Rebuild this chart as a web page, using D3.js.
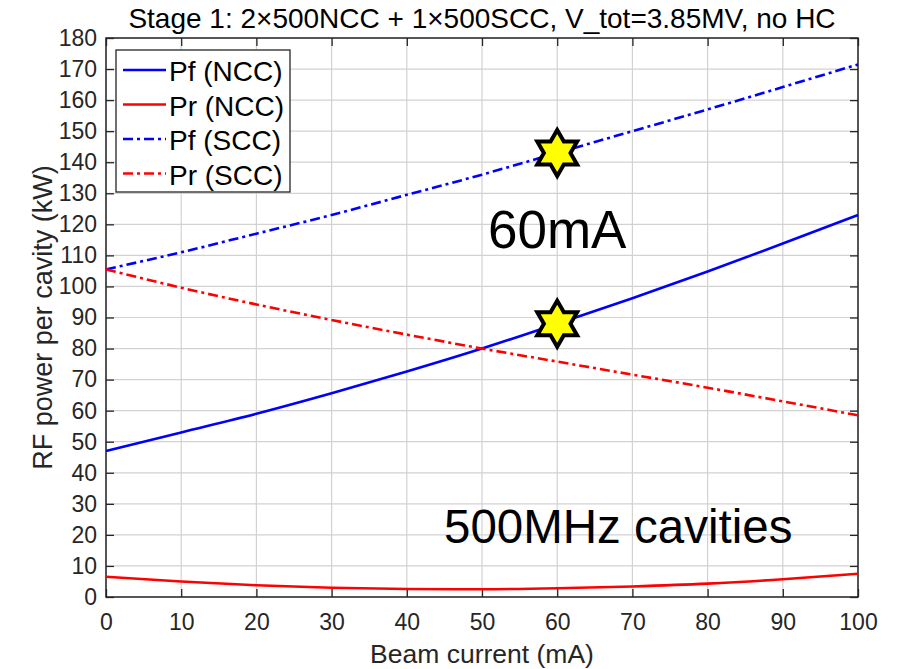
<!DOCTYPE html>
<html>
<head>
<meta charset="utf-8">
<script src="https://cdn.jsdelivr.net/npm/d3@7"></script>
<style>
  body { margin: 0; background: #fff; }
  text { font-family: "Liberation Sans", Arial, Helvetica, sans-serif; }
</style>
</head>
<body>
<script>
// data
const current = [0, 10, 20, 30, 40, 50, 60, 70, 80, 90, 100];
const pfNCC = [47, 53, 59, 65.6, 72.6, 80, 88, 96.2, 104.8, 113.8, 123];
const prNCC = [6.5, 5.0, 3.8, 3.0, 2.6, 2.5, 2.8, 3.4, 4.3, 5.7, 7.5];
const pfSCC = [105.5, 111, 117, 123, 129.5, 136, 143, 150, 157, 164.2, 171.5];
const prSCC = [105.5, 99.6, 94.2, 89.2, 84.5, 80, 75.8, 71.6, 67.4, 63, 58.5];
const seriesNames = ["Pf (NCC)", "Pr (NCC)", "Pf (SCC)", "Pr (SCC)"];
const markers = [[60, 143], [60, 88]];
const xTicks = d3.range(0, 101, 10);
const yTicks = d3.range(0, 181, 10);

const svgWidth = 897, svgHeight = 669;
const margin = {top: 38, right: 39, bottom: 72, left: 106};
const width = svgWidth - margin.left - margin.right;
const height = svgHeight - margin.top - margin.bottom;

const svg = d3.select("body").append("svg")
    .attr("width", svgWidth)
    .attr("height", svgHeight);

const g = svg.append("g")
    .attr("transform", `translate(${margin.left},${margin.top})`);

const x = d3.scaleLinear().domain([0, 100]).range([0, width]);
const y = d3.scaleLinear().domain([0, 180]).range([height, 0]);

// grid
g.append("g").selectAll("line").data(xTicks).enter().append("line")
    .attr("x1", d => x(d)).attr("x2", d => x(d))
    .attr("y1", 0).attr("y2", height)
    .attr("stroke", "#d2d2d2").attr("stroke-width", 1.2);
g.append("g").selectAll("line").data(yTicks).enter().append("line")
    .attr("y1", d => y(d)).attr("y2", d => y(d))
    .attr("x1", 0).attr("x2", width)
    .attr("stroke", "#d2d2d2").attr("stroke-width", 1.2);

// axes (ticks inside, matlab style)
const axColor = "#262626";
g.append("g")
    .attr("transform", `translate(0,${height})`)
    .call(d3.axisBottom(x).tickValues(xTicks).tickSizeInner(-8).tickSizeOuter(0).tickPadding(17));
g.append("g")
    .call(d3.axisLeft(y).tickValues(yTicks).tickSizeInner(-8).tickSizeOuter(0).tickPadding(9));
g.append("g")
    .call(d3.axisTop(x).tickValues(xTicks).tickSizeInner(-8).tickSizeOuter(0).tickFormat(""));
g.append("g")
    .attr("transform", `translate(${width},0)`)
    .call(d3.axisRight(y).tickValues(yTicks).tickSizeInner(-8).tickSizeOuter(0).tickFormat(""));

g.selectAll(".domain").remove();
g.selectAll(".tick line").attr("stroke", axColor).attr("stroke-width", 1.3);
g.selectAll(".tick text").attr("fill", axColor).attr("font-size", 23)
    .attr("font-family", "'Liberation Sans', Arial, sans-serif");

g.append("rect")
    .attr("width", width).attr("height", height)
    .attr("fill", "none").attr("stroke", axColor).attr("stroke-width", 1.5);

// curves
const line = d3.line()
    .x((d, i) => x(current[i]))
    .y(d => y(d))
    .curve(d3.curveMonotoneX);

const dashDot = "10,4,3,4";
const styles = [
    {data: pfNCC, color: "#0000ff", dash: null},
    {data: prNCC, color: "#ff0000", dash: null},
    {data: pfSCC, color: "#0000ff", dash: dashDot},
    {data: prSCC, color: "#ff0000", dash: dashDot}
];

g.append("g").selectAll("path").data(styles).enter().append("path")
    .attr("d", d => line(d.data))
    .attr("fill", "none")
    .attr("stroke", d => d.color)
    .attr("stroke-width", 2.6)
    .attr("stroke-dasharray", d => d.dash);

// hexagram markers
function hexagram(r) {
    const pts = [];
    for (let k = 0; k < 12; k++) {
        const a = -Math.PI / 2 + k * Math.PI / 6;
        const rr = k % 2 === 0 ? r : r / Math.sqrt(3);
        pts.push([rr * Math.cos(a), rr * Math.sin(a)]);
    }
    return "M" + pts.map(p => p.join(",")).join("L") + "Z";
}

g.append("g").selectAll("path").data(markers).enter().append("path")
    .attr("transform", d => `translate(${x(d[0])},${y(d[1])})`)
    .attr("d", hexagram(23))
    .attr("fill", "#ffff00")
    .attr("stroke", "#000")
    .attr("stroke-width", 4)
    .attr("stroke-linejoin", "miter");

// annotations
g.append("text")
    .attr("x", 488 - margin.left).attr("y", 248 - margin.top)
    .attr("font-size", 53)
    .attr("fill", "#000")
    .text("60mA");

g.append("text")
    .attr("x", 444 - margin.left).attr("y", 543 - margin.top)
    .attr("font-size", 47.5)
    .attr("fill", "#000")
    .text("500MHz cavities");

// legend
const legend = g.append("g").attr("transform", "translate(10,12)");
legend.append("rect")
    .attr("width", 174).attr("height", 142)
    .attr("fill", "#fff").attr("stroke", axColor).attr("stroke-width", 1.3);
const items = legend.selectAll("g.item").data(styles).enter().append("g")
    .attr("transform", (d, i) => `translate(0,${20 + i * 34.5})`);
items.append("line")
    .attr("x1", 7).attr("x2", 50)
    .attr("stroke", d => d.color)
    .attr("stroke-width", 2.6)
    .attr("stroke-dasharray", d => d.dash);
items.append("text")
    .attr("x", 53).attr("y", 11)
    .attr("font-size", 28)
    .attr("fill", "#000")
    .text((d, i) => seriesNames[i]);

// title and axis labels
svg.append("text")
    .attr("x", margin.left + width / 2).attr("y", 28)
    .attr("text-anchor", "middle")
    .attr("font-size", 28)
    .attr("fill", "#000")
    .text("Stage 1: 2\u00d7500NCC + 1\u00d7500SCC, V_tot=3.85MV, no HC");

svg.append("text")
    .attr("x", margin.left + width / 2).attr("y", 663)
    .attr("text-anchor", "middle")
    .attr("font-size", 26.5)
    .attr("fill", axColor)
    .text("Beam current (mA)");

svg.append("text")
    .attr("transform", `translate(52,${margin.top + height / 2}) rotate(-90)`)
    .attr("text-anchor", "middle")
    .attr("font-size", 27)
    .attr("fill", axColor)
    .text("RF power per cavity (kW)");
</script>
</body>
</html>
